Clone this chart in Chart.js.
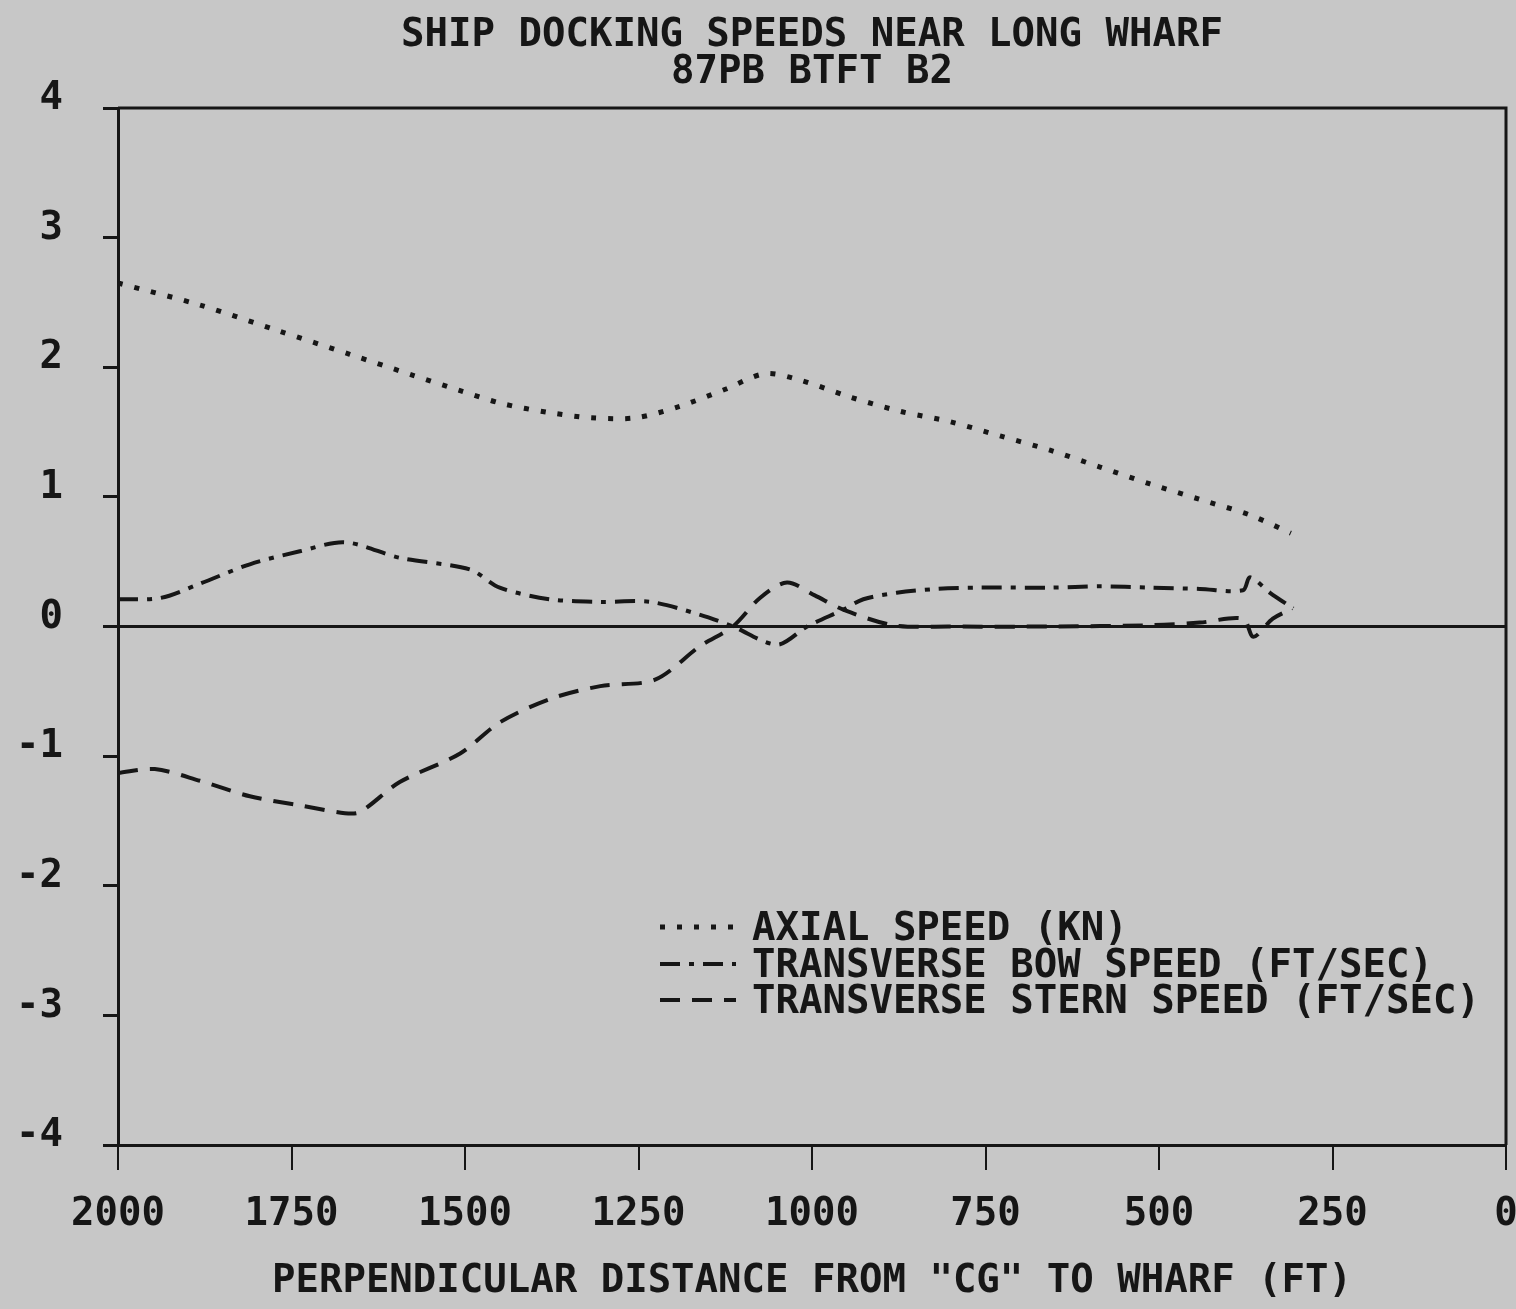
<!DOCTYPE html>
<html>
<head>
<meta charset="utf-8">
<title>Ship docking speeds</title>
<script src="https://cdn.jsdelivr.net/npm/chart.js@4.4.1/dist/chart.umd.min.js"></script>
<style>
  html, body { margin: 0; padding: 0; background: #c7c7c7; }
  canvas { display: block; }
</style>
</head>
<body>
<canvas id="chart" width="1516" height="1309"></canvas>
<script>
// distance from CG to wharf (ft) and speeds
const axialDist  = [2000, 1882, 1768, 1666, 1576, 1507, 1447, 1378, 1318, 1254, 1190, 1125, 1068, 1017, 945, 873, 801, 729, 657, 585, 513, 441, 369, 310];
const axialSpeed = [2.65, 2.48, 2.28, 2.10, 1.94, 1.82, 1.72, 1.65, 1.61, 1.61, 1.70, 1.83, 1.95, 1.90, 1.77, 1.66, 1.58, 1.47, 1.36, 1.23, 1.10, 0.98, 0.86, 0.72];

const bowDist  = [2000, 1939, 1882, 1810, 1738, 1673, 1594, 1493, 1450, 1378, 1305, 1233, 1161, 1114, 1050, 1007, 955, 926, 878, 820, 758, 657, 585, 513, 441, 379, 369, 340, 307];
const bowSpeed = [0.21, 0.22, 0.33, 0.48, 0.58, 0.65, 0.53, 0.44, 0.30, 0.21, 0.19, 0.19, 0.09, 0.00, -0.14, 0.00, 0.13, 0.21, 0.26, 0.29, 0.30, 0.30, 0.31, 0.30, 0.29, 0.28, 0.38, 0.26, 0.14];

const sternDist  = [2000, 1947, 1882, 1810, 1738, 1673, 1651, 1594, 1507, 1450, 1378, 1305, 1226, 1161, 1114, 1075, 1036, 996, 955, 883, 801, 657, 513, 441, 379, 364, 336, 307];
const sternSpeed = [-1.13, -1.10, -1.19, -1.31, -1.38, -1.44, -1.43, -1.20, -0.98, -0.74, -0.56, -0.46, -0.41, -0.15, 0.00, 0.22, 0.34, 0.24, 0.13, 0.01, 0.00, 0.00, 0.01, 0.03, 0.06, -0.08, 0.06, 0.14];

const seriesNames = ['AXIAL SPEED (KN)', 'TRANSVERSE BOW SPEED (FT/SEC)', 'TRANSVERSE STERN SPEED (FT/SEC)'];
const titleLines = ['SHIP DOCKING SPEEDS NEAR LONG WHARF', '87PB BTFT B2'];
const xTitle = 'PERPENDICULAR DISTANCE FROM "CG" TO WHARF (FT)';

const ink = '#161616';
const font = 'DejaVu Sans Mono';
const textSize = 39;

const toPoints = (xs, ys) => xs.map((x, i) => ({ x: x, y: ys[i] }));

// title above the box, centred on the plot area
const titlePlugin = {
    id: 'plotTitle',
    afterDraw(chart) {
        const c = chart.ctx, a = chart.chartArea;
        c.save();
        c.fillStyle = ink;
        c.font = 'bold ' + textSize + 'px "' + font + '"';
        c.textAlign = 'center';
        c.textBaseline = 'middle';
        const cx = (a.left + a.right) / 2;
        c.fillText(titleLines[0], cx, 36);
        c.fillText(titleLines[1], cx, 73);
        c.restore();
    }
};

// top and right edges of the frame
const framePlugin = {
    id: 'frame',
    afterDatasetsDraw(chart) {
        const c = chart.ctx, a = chart.chartArea;
        c.save();
        c.strokeStyle = ink;
        c.lineWidth = 3;
        c.beginPath();
        c.moveTo(a.left, a.top);
        c.lineTo(a.right, a.top);
        c.lineTo(a.right, a.bottom);
        c.stroke();
        c.restore();
    }
};

// line-style key in the lower right of the plot
const keyPlugin = {
    id: 'key',
    afterDraw(chart) {
        const c = chart.ctx;
        const rows = [930, 967, 1003];
        c.save();
        c.font = 'bold ' + textSize + 'px "' + font + '"';
        c.textBaseline = 'middle';
        c.textAlign = 'left';
        chart.data.datasets.forEach((ds, i) => {
            const y = rows[i];
            c.strokeStyle = ink;
            c.lineWidth = ds.borderWidth;
            c.setLineDash(ds.borderDash);
            c.beginPath();
            c.moveTo(660, y - 3);
            c.lineTo(736, y - 3);
            c.stroke();
            c.setLineDash([]);
            c.fillStyle = ink;
            c.fillText(ds.label, 752, y);
        });
        c.restore();
    }
};

new Chart(document.getElementById('chart'), {
    type: 'line',
    data: {
        datasets: [{
            label: seriesNames[0],
            data: toPoints(axialDist, axialSpeed),
            borderColor: ink,
            borderWidth: 5,
            borderDash: [5, 12],
        },
        {
            label: seriesNames[1],
            data: toPoints(bowDist, bowSpeed),
            borderColor: ink,
            borderWidth: 4,
            borderDash: [20, 9, 5, 9],
        },
        {
            label: seriesNames[2],
            data: toPoints(sternDist, sternSpeed),
            borderColor: ink,
            borderWidth: 4,
            borderDash: [20, 12],
        }]
    },
    options: {
        responsive: false,
        animation: false,
        layout: { padding: { left: 0, top: 108, right: 10, bottom: 0 } },
        elements: {
            point: { radius: 0 },
            line: { tension: 0.3, fill: false, borderCapStyle: 'butt' }
        },
        plugins: {
            legend: { display: false },
            title: { display: false },
            tooltip: { enabled: false }
        },
        scales: {
            x: {
                type: 'linear',
                reverse: true,
                min: 0,
                max: 2000,
                afterFit(scale) {
                    scale.height = 164;
                    scale.paddingLeft = 0;
                    scale.paddingRight = 0;
                },
                border: { display: true, color: ink, width: 3 },
                grid: { color: 'rgba(0,0,0,0)', tickColor: ink, tickLength: 25, lineWidth: 2 },
                ticks: {
                    stepSize: 250,
                    color: ink,
                    padding: 21,
                    maxRotation: 0,
                    font: { family: font, size: textSize, weight: 'bold' },
                    callback: v => String(v)
                },
                title: {
                    display: true,
                    text: xTitle,
                    color: ink,
                    font: { family: font, size: textSize, weight: 'bold', lineHeight: 1.2 },
                    padding: { top: 0, bottom: 4 }
                }
            },
            y: {
                min: -4,
                max: 4,
                afterFit(scale) {
                    scale.width = 118;
                    scale.paddingTop = 0;
                    scale.paddingBottom = 0;
                },
                border: { display: true, color: ink, width: 3 },
                grid: {
                    color: c => (c.tick && c.tick.value === 0) ? ink : 'rgba(0,0,0,0)',
                    lineWidth: 3,
                    tickColor: ink,
                    tickLength: 15
                },
                ticks: {
                    stepSize: 1,
                    color: ink,
                    padding: 40,
                    labelOffset: -9,
                    font: { family: font, size: textSize, weight: 'bold' },
                    callback: v => String(v)
                }
            }
        }
    },
    plugins: [titlePlugin, framePlugin, keyPlugin]
});
</script>
</body>
</html>
